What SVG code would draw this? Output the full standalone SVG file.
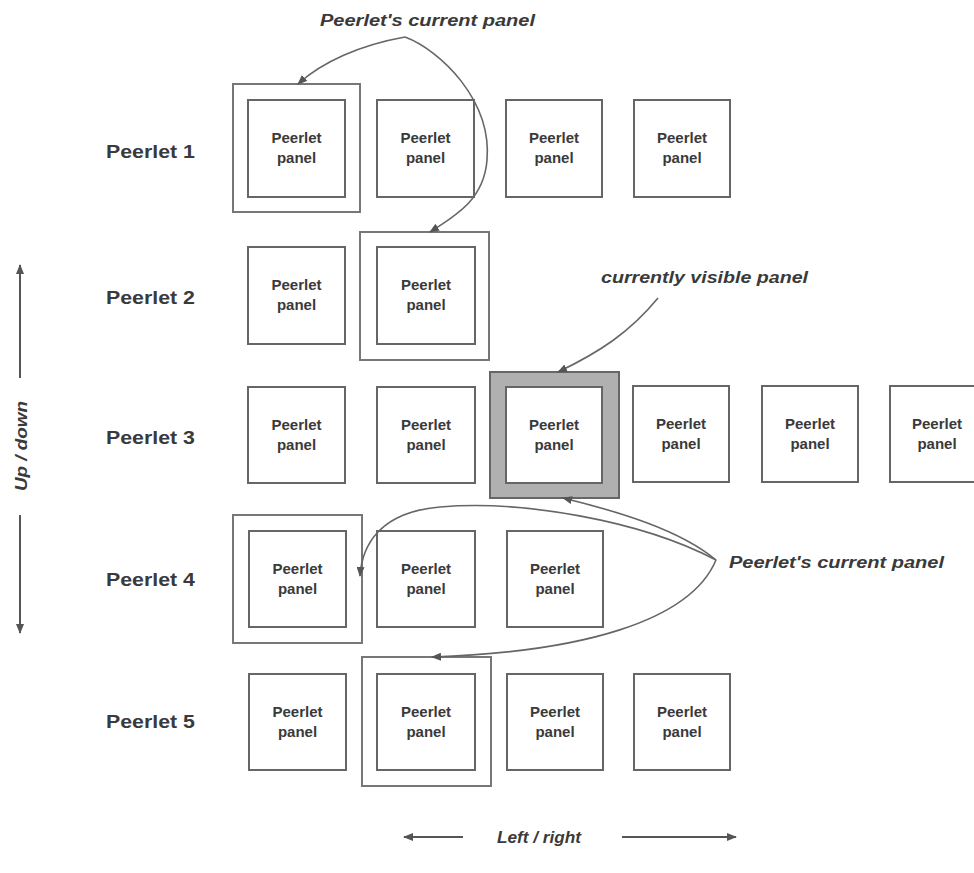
<svg xmlns="http://www.w3.org/2000/svg" width="974" height="873" viewBox="0 0 974 873">
  <defs>
    <marker id="tip" viewBox="0 0 10 8" refX="9" refY="4" markerWidth="10" markerHeight="8" markerUnits="userSpaceOnUse" orient="auto">
      <path d="M0,0 L10,4 L0,8 Z" fill="#555"/>
    </marker>
    <style>
      .panel { fill: #fff; stroke: #666; stroke-width: 2; }
      .frame { fill: #fff; stroke: #777; stroke-width: 2; }
      .frame-on { fill: #b0b0b0; stroke: #666; stroke-width: 2; }
      .ptxt { font-family: "Liberation Sans", Arial, sans-serif; font-size: 15px; font-weight: bold; fill: #3a3a3a; text-anchor: middle; }
      .row { font-family: "Liberation Sans", Arial, sans-serif; font-size: 18px; font-weight: bold; fill: #3a3a3a; }
      .note { font-family: "Liberation Sans", Arial, sans-serif; font-size: 16px; font-weight: bold; font-style: italic; fill: #3a3a3a; }
      .link { fill: none; stroke: #666; stroke-width: 1.6; marker-end: url(#tip); }
      .axis { fill: none; stroke: #555; stroke-width: 2; marker-end: url(#tip); }
    </style>
  </defs>

  <rect width="974" height="873" fill="#fff"/>

  <!-- row labels -->
  <g id="row-labels">
    <text class="row" x="106" y="158" textLength="89" lengthAdjust="spacingAndGlyphs">Peerlet 1</text>
    <text class="row" x="106" y="304" textLength="89" lengthAdjust="spacingAndGlyphs">Peerlet 2</text>
    <text class="row" x="106" y="444" textLength="89" lengthAdjust="spacingAndGlyphs">Peerlet 3</text>
    <text class="row" x="106" y="586" textLength="89" lengthAdjust="spacingAndGlyphs">Peerlet 4</text>
    <text class="row" x="106" y="728" textLength="89" lengthAdjust="spacingAndGlyphs">Peerlet 5</text>
  </g>

  <!-- current-panel frames -->
  <g id="frame-r1"><rect class="frame" x="233" y="84" width="127" height="128"/></g>
  <g id="frame-r2"><rect class="frame" x="360" y="232" width="129" height="128"/></g>
  <g id="frame-r3-visible"><rect class="frame-on" x="490" y="372" width="129" height="126"/></g>
  <g id="frame-r4"><rect class="frame" x="233" y="515" width="129" height="128"/></g>
  <g id="frame-r5"><rect class="frame" x="362" y="657" width="129" height="129"/></g>

  <!-- row 1 -->
  <g id="p1-1"><rect class="panel" x="248" y="100" width="97" height="97"/><text class="ptxt" x="296.5" y="143">Peerlet</text><text class="ptxt" x="296.5" y="163">panel</text></g>
  <g id="p1-2"><rect class="panel" x="377" y="100" width="97" height="97"/><text class="ptxt" x="425.5" y="143">Peerlet</text><text class="ptxt" x="425.5" y="163">panel</text></g>
  <g id="p1-3"><rect class="panel" x="506" y="100" width="96" height="97"/><text class="ptxt" x="554" y="143">Peerlet</text><text class="ptxt" x="554" y="163">panel</text></g>
  <g id="p1-4"><rect class="panel" x="634" y="100" width="96" height="97"/><text class="ptxt" x="682" y="143">Peerlet</text><text class="ptxt" x="682" y="163">panel</text></g>

  <!-- row 2 -->
  <g id="p2-1"><rect class="panel" x="248" y="247" width="97" height="97"/><text class="ptxt" x="296.5" y="290">Peerlet</text><text class="ptxt" x="296.5" y="310">panel</text></g>
  <g id="p2-2"><rect class="panel" x="377" y="247" width="98" height="97"/><text class="ptxt" x="426" y="290">Peerlet</text><text class="ptxt" x="426" y="310">panel</text></g>

  <!-- row 3 -->
  <g id="p3-1"><rect class="panel" x="248" y="387" width="97" height="96"/><text class="ptxt" x="296.5" y="430">Peerlet</text><text class="ptxt" x="296.5" y="450">panel</text></g>
  <g id="p3-2"><rect class="panel" x="377" y="387" width="98" height="96"/><text class="ptxt" x="426" y="430">Peerlet</text><text class="ptxt" x="426" y="450">panel</text></g>
  <g id="p3-3"><rect class="panel" x="506" y="387" width="96" height="96"/><text class="ptxt" x="554" y="430">Peerlet</text><text class="ptxt" x="554" y="450">panel</text></g>
  <g id="p3-4"><rect class="panel" x="633" y="386" width="96" height="96"/><text class="ptxt" x="681" y="429">Peerlet</text><text class="ptxt" x="681" y="449">panel</text></g>
  <g id="p3-5"><rect class="panel" x="762" y="386" width="96" height="96"/><text class="ptxt" x="810" y="429">Peerlet</text><text class="ptxt" x="810" y="449">panel</text></g>
  <g id="p3-6"><rect class="panel" x="890" y="386" width="96" height="96"/><text class="ptxt" x="937" y="429">Peerlet</text><text class="ptxt" x="937" y="449">panel</text></g>

  <!-- row 4 -->
  <g id="p4-1"><rect class="panel" x="249" y="531" width="97" height="96"/><text class="ptxt" x="297.5" y="574">Peerlet</text><text class="ptxt" x="297.5" y="594">panel</text></g>
  <g id="p4-2"><rect class="panel" x="377" y="531" width="98" height="96"/><text class="ptxt" x="426" y="574">Peerlet</text><text class="ptxt" x="426" y="594">panel</text></g>
  <g id="p4-3"><rect class="panel" x="507" y="531" width="96" height="96"/><text class="ptxt" x="555" y="574">Peerlet</text><text class="ptxt" x="555" y="594">panel</text></g>

  <!-- row 5 -->
  <g id="p5-1"><rect class="panel" x="249" y="674" width="97" height="96"/><text class="ptxt" x="297.5" y="717">Peerlet</text><text class="ptxt" x="297.5" y="737">panel</text></g>
  <g id="p5-2"><rect class="panel" x="377" y="674" width="98" height="96"/><text class="ptxt" x="426" y="717">Peerlet</text><text class="ptxt" x="426" y="737">panel</text></g>
  <g id="p5-3"><rect class="panel" x="507" y="674" width="96" height="96"/><text class="ptxt" x="555" y="717">Peerlet</text><text class="ptxt" x="555" y="737">panel</text></g>
  <g id="p5-4"><rect class="panel" x="634" y="674" width="96" height="96"/><text class="ptxt" x="682" y="717">Peerlet</text><text class="ptxt" x="682" y="737">panel</text></g>

  <!-- callout labels -->
  <g id="label-top"><text class="note" x="320" y="26" textLength="215" lengthAdjust="spacingAndGlyphs">Peerlet's current panel</text></g>
  <g id="label-visible"><text class="note" x="601" y="283" textLength="207" lengthAdjust="spacingAndGlyphs">currently visible panel</text></g>
  <g id="label-right"><text class="note" x="729" y="568" textLength="215" lengthAdjust="spacingAndGlyphs">Peerlet's current panel</text></g>

  <!-- connectors -->
  <g id="connectors">
    <path class="link" d="M405,37 C360,45 322,62 298,84"/>
    <path class="link" d="M405,37 C440,50 492,100 487,160 C484,200 455,216 430,232"/>
    <path class="link" d="M658,298 C630,332 600,352 558,372"/>
    <path class="link" d="M716,560 C680,530 620,512 563,498"/>
    <path class="link" d="M716,560 C640,520 520,500 440,507 C380,512 362,545 360,576"/>
    <path class="link" d="M716,560 C690,622 580,652 432,657"/>
  </g>

  <!-- navigation axes -->
  <g id="axis-updown">
    <line class="axis" x1="20" y1="378" x2="20" y2="265"/>
    <line class="axis" x1="20" y1="515" x2="20" y2="633"/>
    <text class="note" transform="translate(27,491) rotate(-90)" textLength="90" lengthAdjust="spacingAndGlyphs">Up / down</text>
  </g>
  <g id="axis-leftright">
    <line class="axis" x1="463" y1="837" x2="404" y2="837"/>
    <line class="axis" x1="622" y1="837" x2="736" y2="837"/>
    <text class="note" x="497" y="843" textLength="84" lengthAdjust="spacingAndGlyphs">Left / right</text>
  </g>
</svg>
